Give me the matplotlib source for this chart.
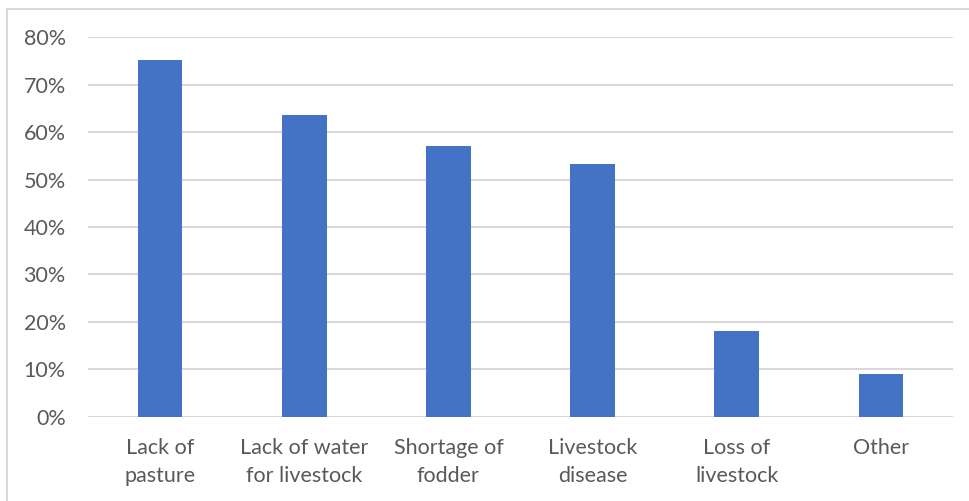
import matplotlib
matplotlib.use("Agg")
import matplotlib.pyplot as plt
from matplotlib.lines import Line2D
from matplotlib.ticker import FuncFormatter, MultipleLocator

categories = ["Lack of\npasture", "Lack of water\nfor livestock", "Shortage of\nfodder",
              "Livestock\ndisease", "Loss of\nlivestock", "Other"]
values = [0.752, 0.636, 0.571, 0.532, 0.181, 0.090]

W, H = 969, 501
fig = plt.figure(figsize=(W / 100, H / 100), dpi=100)
plt.rcParams["font.family"] = ["Lato", "DejaVu Sans"]

ax = fig.add_axes([88 / W, (H - 416.7) / H, (953 - 88) / W, (416.7 - 37.3) / H])

bar_color = "#4472c4"
grid_color = "#d9d9d9"
text_color = "#595959"

x = range(len(categories))
ax.bar(x, values, width=0.31, color=bar_color, zorder=3)

ax.set_xlim(-0.5, len(categories) - 0.5)
ax.set_ylim(0, 0.8)
ax.yaxis.set_major_locator(MultipleLocator(0.1))
ax.yaxis.set_major_formatter(FuncFormatter(lambda v, _: f"{round(v * 100)}%"))
ax.set_xticks(list(x))
ax.set_xticklabels(categories, linespacing=1.5)

ax.grid(axis="y", color=grid_color, linewidth=1.5, zorder=0)
for s in ax.spines.values():
    s.set_visible(False)
ax.tick_params(axis="both", length=0, labelsize=15.5, colors=text_color)
ax.tick_params(axis="y", pad=16)
ax.tick_params(axis="x", pad=15)

# light chart frame on the left and top
fig.add_artist(Line2D([6.5 / W, 6.5 / W], [0, 1 - 8.7 / H], transform=fig.transFigure,
                      color=grid_color, linewidth=1.5))
fig.add_artist(Line2D([6.5 / W, 1], [1 - 8.7 / H, 1 - 8.7 / H], transform=fig.transFigure,
                      color=grid_color, linewidth=1.5))

fig.savefig("out.png", dpi=100)
